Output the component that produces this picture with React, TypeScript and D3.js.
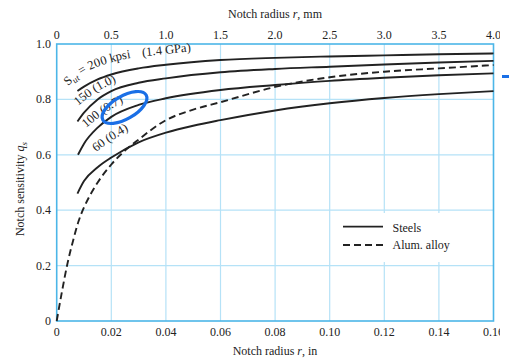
import { scaleLinear, line, curveMonotoneX, curveNatural } from 'd3';

const W = 509;
const H = 358;

// notch radius r (in) and notch sensitivity q
const r200 = [0.0076, 0.01, 0.015, 0.02, 0.03, 0.04, 0.06, 0.08, 0.1, 0.12, 0.14, 0.16];
const q200 = [0.83, 0.846, 0.872, 0.89, 0.912, 0.925, 0.942, 0.95, 0.955, 0.959, 0.963, 0.966];

const r150 = [0.0076, 0.01, 0.015, 0.02, 0.03, 0.04, 0.06, 0.08, 0.1, 0.12, 0.14, 0.16];
const q150 = [0.72, 0.752, 0.8, 0.83, 0.86, 0.876, 0.898, 0.91, 0.918, 0.926, 0.933, 0.939];

const r100 = [0.0078, 0.01, 0.015, 0.02, 0.03, 0.04, 0.06, 0.08, 0.1, 0.12, 0.14, 0.16];
const q100 = [0.6, 0.64, 0.698, 0.737, 0.78, 0.804, 0.834, 0.852, 0.867, 0.878, 0.887, 0.894];

const r60 = [0.0076, 0.01, 0.015, 0.02, 0.03, 0.04, 0.05, 0.06, 0.08, 0.1, 0.12, 0.14, 0.16];
const q60 = [0.46, 0.505, 0.555, 0.59, 0.645, 0.68, 0.705, 0.725, 0.76, 0.786, 0.805, 0.819, 0.83];

const rAl = [0, 0.002, 0.004, 0.006, 0.008, 0.01, 0.012, 0.015, 0.02, 0.025, 0.03, 0.04, 0.05, 0.06, 0.08, 0.1, 0.12, 0.14, 0.16];
const qAl = [0, 0.11, 0.21, 0.29, 0.36, 0.41, 0.45, 0.5, 0.565, 0.615, 0.655, 0.725, 0.763, 0.79, 0.845, 0.88, 0.9, 0.912, 0.924];

const inTicks = [0, 0.02, 0.04, 0.06, 0.08, 0.1, 0.12, 0.14, 0.16];
const mmTicks = [0, 0.5, 1.0, 1.5, 2.0, 2.5, 3.0, 3.5, 4.0];
const qTicks = [0, 0.2, 0.4, 0.6, 0.8, 1.0];

const steels = [
  { r: r200, q: q200 },
  { r: r150, q: q150 },
  { r: r100, q: q100 },
  { r: r60, q: q60 },
];

const FONT = '"Liberation Serif", "DejaVu Serif", serif';
const GRID = '#b5e2f7';
const FRAME = '#4cb6e8';
const INK = '#222';

const x = scaleLinear().domain([0, 0.16]).range([56.7, 493.5]);
const xmm = scaleLinear().domain([0, 4]).range([56.7, 493.5]);
const y = scaleLinear().domain([0, 1]).range([321, 44]);

const curve = line<number[]>()
  .x((d) => x(d[0]))
  .y((d) => y(d[1]))
  .curve(curveMonotoneX);

const labelPath = line<number[]>().curve(curveNatural);

const zip = (a: number[], b: number[]) => a.map((v, i) => [v, b[i]]);

function CurveLabel({ id, pts, offset = 0, children }: { id: string; pts: number[][]; offset?: number; children: any }) {
  return (
    <g>
      <path id={id} d={labelPath(pts) || ''} fill="none" stroke="none" />
      <text fontFamily={FONT} fontSize={12.5} fill={INK}>
        <textPath href={`#${id}`} startOffset={offset}>{children}</textPath>
      </text>
    </g>
  );
}

export default function App() {
  const [x0, x1] = x.range();
  const [y0, y1] = y.range();
  const lab200 = [[68, 86], [88, 71], [116, 61], [146, 56], [205, 50]];
  return (
    <svg width={W} height={H} style={{ position: 'absolute', left: 0, top: 0, background: '#fff' }}>
      {/* grid */}
      {inTicks.slice(1, -1).map((t) => (
        <line key={'gx' + t} x1={x(t)} x2={x(t)} y1={y1} y2={y0} stroke={GRID} strokeWidth={1.2} />
      ))}
      {qTicks.slice(1, -1).map((t) => (
        <line key={'gy' + t} x1={x0} x2={x1} y1={y(t)} y2={y(t)} stroke={GRID} strokeWidth={1.2} />
      ))}
      <rect x={x0} y={y1} width={x1 - x0} height={y0 - y1} fill="none" stroke={FRAME} strokeWidth={1.6} />

      {/* legend box hides grid */}
      <rect x={336} y={213} width={134} height={49} fill="#fff" />
      <line x1={343} x2={383} y1={226.7} y2={226.7} stroke={INK} strokeWidth={1.8} />
      <text x={392.5} y={231.5} fontFamily={FONT} fontSize={12} fill={INK}>Steels</text>
      <line x1={343} x2={383} y1={245} y2={245} stroke={INK} strokeWidth={1.8} strokeDasharray="7,4" />
      <text x={392.5} y={249} fontFamily={FONT} fontSize={12} fill={INK}>Alum. alloy</text>

      {/* curves */}
      {steels.map((s, i) => (
        <path key={i} d={curve(zip(s.r, s.q)) || ''} fill="none" stroke={INK} strokeWidth={1.9} />
      ))}
      <path d={curve(zip(rAl, qAl)) || ''} fill="none" stroke={INK} strokeWidth={1.9} strokeDasharray="7,4" />

      {/* curve labels */}
      <CurveLabel id="lab200" pts={lab200}>
        S<tspan dy={3} fontSize={9} fontStyle="italic">ut</tspan>
        <tspan dy={-3}> = 200 kpsi</tspan>
      </CurveLabel>
      <CurveLabel id="lab200b" pts={lab200} offset={82}>(1.4 GPa)</CurveLabel>
      <CurveLabel id="lab150" pts={[[78, 106], [100, 90], [130, 76]]}>150  (1.0)</CurveLabel>
      <CurveLabel id="lab100" pts={[[86, 128], [108, 111], [138, 95]]}>100  (0.7)</CurveLabel>
      <CurveLabel id="lab60" pts={[[96, 152], [116, 138], [142, 123]]}>60  (0.4)</CurveLabel>

      {/* hand-drawn highlight */}
      <ellipse cx={124.5} cy={107.5} rx={25} ry={11.5} transform="rotate(-30 124.5 107.5)" fill="none" stroke="#1a6fe6" strokeWidth={3.2} />

      {/* tick labels */}
      {qTicks.map((t) => (
        <text key={'yl' + t} x={51} y={y(t) + 4} textAnchor="end" fontFamily={FONT} fontSize={12} fill={INK}>
          {t === 0 ? '0' : t.toFixed(1)}
        </text>
      ))}
      {inTicks.map((t) => (
        <text key={'xl' + t} x={x(t)} y={335.5} textAnchor="middle" fontFamily={FONT} fontSize={12} fill={INK}>
          {t === 0 ? '0' : t.toFixed(2)}
        </text>
      ))}
      {mmTicks.map((t) => (
        <text key={'ml' + t} x={xmm(t)} y={39} textAnchor="middle" fontFamily={FONT} fontSize={12} fill={INK}>
          {t === 0 ? '0' : t.toFixed(1)}
        </text>
      ))}

      {/* axis titles */}
      <text x={275} y={18} textAnchor="middle" fontFamily={FONT} fontSize={12} fill={INK}>
        Notch radius <tspan fontStyle="italic">r</tspan>, mm
      </text>
      <text x={275} y={355} textAnchor="middle" fontFamily={FONT} fontSize={12} fill={INK}>
        Notch radius <tspan fontStyle="italic">r</tspan>, in
      </text>
      <text transform="translate(23.5,189) rotate(-90)" textAnchor="middle" fontFamily={FONT} fontSize={12} fill={INK}>
        Notch sensitivity <tspan fontStyle="italic">q</tspan>
        <tspan fontStyle="italic" fontSize={9} dy={3}>s</tspan>
      </text>

      {/* page crop on the right, then the stray blue mark */}
      <rect x={500} y={0} width={9} height={H} fill="#fff" />
      <line x1={502} x2={509} y1={76.5} y2={76.5} stroke="#1a6fe6" strokeWidth={3} />
    </svg>
  );
}
